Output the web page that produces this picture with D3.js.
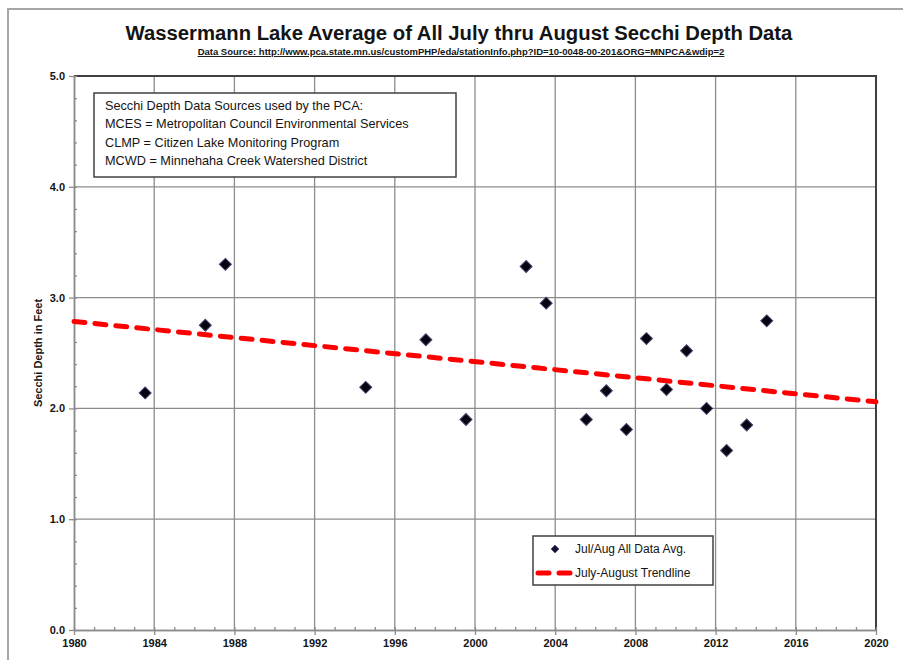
<!DOCTYPE html>
<html>
<head>
<meta charset="utf-8">
<script src="https://cdn.jsdelivr.net/npm/d3@7"></script>
<style>
  body { margin: 0; background: #fff; }
  svg { display: block; font-family: "Liberation Sans", Arial, sans-serif; }
</style>
</head>
<body>
<svg id="chart"></svg>
<script>
///////////////////////////////////////////
//////////////// Data /////////////////////
///////////////////////////////////////////
const years = [1983, 1986, 1987, 1994, 1997, 1999, 2002, 2003, 2005, 2006, 2007, 2008, 2009, 2010, 2011, 2012, 2013, 2014]
const secchiFeet = [2.14, 2.75, 3.30, 2.19, 2.62, 1.90, 3.28, 2.95, 1.90, 2.16, 1.81, 2.63, 2.17, 2.52, 2.00, 1.62, 1.85, 2.79]
const xTicks = d3.range(1980, 2021, 4)
const yTicks = [0, 1, 2, 3, 4, 5]
const sourceNotes = [
  "Secchi Depth Data Sources used by the PCA:",
  "MCES = Metropolitan Council Environmental Services",
  "CLMP = Citizen Lake Monitoring Program",
  "MCWD = Minnehaha Creek Watershed District"
]
const legendLabels = ["Jul/Aug All Data Avg.", "July-August Trendline"]
const titleText = "Wassermann Lake Average of All July thru August Secchi Depth Data"
const sourceText = "Data Source:  http://www.pca.state.mn.us/customPHP/eda/stationInfo.php?ID=10-0048-00-201&ORG=MNPCA&wdip=2"

///////////////////////////////////////////
//////////////// Constants ////////////////
///////////////////////////////////////////
const width = 903
const height = 660
const plot = { left: 74, right: 876, top: 76, bottom: 630 }
const seasonOffset = 0.55 // Jul/Aug sits a little past mid-year on the date axis

const gridColour = "#8c8c8c"
const frameColour = "#404040"
const textColour = "#141414"
const trendColour = "#ff0000"

const svg = d3.select("#chart")
  .attr("width", width)
  .attr("height", height)

const x = d3.scaleLinear().domain([1980, 2020]).range([plot.left, plot.right])
const y = d3.scaleLinear().domain([0, 5]).range([plot.bottom, plot.top])

// outer chart frame (partly cut off by the page)
svg.append("path")
  .attr("d", `M8,${height} V9 H${width}`)
  .attr("fill", "none")
  .attr("stroke", "#a6a6a6")
  .attr("stroke-width", 2)

// descender of a letter from the page above
svg.append("text")
  .attr("x", 353).attr("y", -4)
  .attr("font-size", 20)
  .attr("fill", textColour)
  .text("y")

////////////////////////////
////////// Titles //////////
////////////////////////////
svg.append("text")
  .attr("x", 459).attr("y", 40)
  .attr("text-anchor", "middle")
  .attr("font-size", 20.3)
  .attr("font-weight", "bold")
  .attr("fill", textColour)
  .text(titleText)

svg.append("text")
  .attr("x", 461).attr("y", 55)
  .attr("text-anchor", "middle")
  .attr("font-size", 9.5)
  .attr("font-weight", "bold")
  .attr("text-decoration", "underline")
  .attr("fill", textColour)
  .text(sourceText)

svg.append("text")
  .attr("transform", `translate(42,${(plot.top + plot.bottom) / 2}) rotate(-90)`)
  .attr("text-anchor", "middle")
  .attr("font-size", 11)
  .attr("font-weight", "bold")
  .attr("fill", textColour)
  .text("Secchi Depth in Feet")

////////////////////////////
/////////// Grid ///////////
////////////////////////////
const grid = svg.append("g")
  .attr("stroke", gridColour)
  .attr("stroke-width", 1.3)

grid.selectAll(".vgrid")
  .data(xTicks.slice(1, -1))
  .join("line")
    .attr("x1", d => x(d)).attr("x2", d => x(d))
    .attr("y1", plot.top).attr("y2", plot.bottom)

grid.selectAll(".hgrid")
  .data(yTicks.slice(1, -1))
  .join("line")
    .attr("x1", plot.left).attr("x2", plot.right)
    .attr("y1", d => y(d)).attr("y2", d => y(d))

// plot area border on the top and right
svg.append("path")
  .attr("d", `M${plot.left},${plot.top} H${plot.right} V${plot.bottom}`)
  .attr("fill", "none")
  .attr("stroke", frameColour)
  .attr("stroke-width", 2)

////////////////////////////
/////////// Axes ///////////
////////////////////////////
const styleAxis = g => {
  g.select(".domain").attr("stroke", gridColour).attr("stroke-width", 1.5)
  g.selectAll(".tick line").attr("stroke", gridColour).attr("stroke-width", 1.3)
  g.selectAll(".tick text")
    .attr("fill", textColour)
    .attr("font-size", 11)
    .attr("font-weight", "bold")
    .attr("font-family", "Liberation Sans, Arial, sans-serif")
}

// minor ticks point inwards
svg.append("g")
  .attr("transform", `translate(0,${plot.bottom})`)
  .call(d3.axisBottom(x).tickValues(d3.range(1980, 2021, 1)).tickSize(-3).tickFormat("").tickSizeOuter(0))
  .call(styleAxis)

svg.append("g")
  .attr("transform", `translate(${plot.left},0)`)
  .call(d3.axisLeft(y).tickValues(d3.range(0, 5.01, 0.2)).tickSize(-3).tickFormat("").tickSizeOuter(0))
  .call(styleAxis)

svg.append("g")
  .attr("transform", `translate(0,${plot.bottom})`)
  .call(d3.axisBottom(x).tickValues(xTicks).tickSize(5).tickPadding(4).tickFormat(d3.format("d")).tickSizeOuter(0))
  .call(styleAxis)

svg.append("g")
  .attr("transform", `translate(${plot.left},0)`)
  .call(d3.axisLeft(y).tickValues(yTicks).tickSize(5).tickPadding(4).tickFormat(d3.format(".1f")).tickSizeOuter(0))
  .call(styleAxis)

////////////////////////////
//////// Trendline /////////
////////////////////////////
const points = years.map((yr, i) => ({ t: yr + seasonOffset, v: secchiFeet[i] }))
const meanT = d3.mean(points, d => d.t)
const meanV = d3.mean(points, d => d.v)
const slope = d3.sum(points, d => (d.t - meanT) * (d.v - meanV)) / d3.sum(points, d => (d.t - meanT) ** 2)
const trend = t => meanV + slope * (t - meanT)

svg.append("path")
  .datum([1980, 2020])
  .attr("d", d3.line().x(d => x(d)).y(d => y(trend(d))))
  .attr("fill", "none")
  .attr("stroke", trendColour)
  .attr("stroke-width", 5)
  .attr("stroke-linecap", "round")
  .attr("stroke-dasharray", "11 10")

////////////////////////////
////////// Points //////////
////////////////////////////
const diamond = d3.symbol(d3.symbolSquare, 72)

svg.append("g")
  .selectAll("path")
  .data(points)
  .join("path")
    .attr("d", diamond)
    .attr("transform", d => `translate(${x(d.t)},${y(d.v)}) rotate(45)`)
    .attr("fill", "#05050f")
    .attr("stroke", "#4a3d6e")
    .attr("stroke-width", 1)

////////////////////////////
///////// Notes box ////////
////////////////////////////
const notes = svg.append("g").attr("transform", "translate(94,93)")
notes.append("rect")
  .attr("width", 362).attr("height", 84)
  .attr("fill", "#fff")
  .attr("stroke", frameColour)
  .attr("stroke-width", 1.5)
notes.selectAll("text")
  .data(sourceNotes)
  .join("text")
    .attr("x", 11)
    .attr("y", (d, i) => 17 + i * 18.3)
    .attr("font-size", 12.7)
    .attr("fill", textColour)
    .text(d => d)

////////////////////////////
////////// Legend //////////
////////////////////////////
const legend = svg.append("g").attr("transform", "translate(533,536)")
legend.append("rect")
  .attr("width", 180).attr("height", 49)
  .attr("fill", "#fff")
  .attr("stroke", frameColour)
  .attr("stroke-width", 1.5)

legend.append("path")
  .attr("d", d3.symbol(d3.symbolSquare, 32))
  .attr("transform", "translate(22,13) rotate(45)")
  .attr("fill", "#1a1233")
  .attr("stroke", "#5a4d80")
  .attr("stroke-width", 0.8)

legend.append("line")
  .attr("x1", 5).attr("x2", 40)
  .attr("y1", 37).attr("y2", 37)
  .attr("stroke", trendColour)
  .attr("stroke-width", 5)
  .attr("stroke-linecap", "round")
  .attr("stroke-dasharray", "11 10")

legend.selectAll(".legend-text")
  .data(legendLabels)
  .join("text")
    .attr("x", 42)
    .attr("y", (d, i) => 17 + i * 23.5)
    .attr("font-size", 12)
    .attr("fill", textColour)
    .text(d => d)
</script>
</body>
</html>
